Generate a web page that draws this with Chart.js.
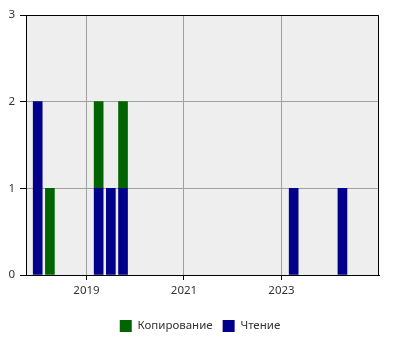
<!DOCTYPE html>
<html>
<head>
<meta charset="utf-8">
<script src="https://cdn.jsdelivr.net/npm/chart.js@4/dist/chart.umd.min.js"></script>
<style>
    body { margin: 0; background: #fff; }
</style>
</head>
<body>
<canvas id="chart" width="400" height="350"></canvas>
<script>
// Quarters (as decimal years) where something happened
const readingDates = [2018.0, 2019.25, 2019.5, 2019.75, 2023.25, 2024.25]
const readingCounts = [2, 1, 1, 1, 1, 1]
const copyDates = [2018.25, 2019.25, 2019.75]
const copyCounts = [1, 1, 1]
const yearTicks = [2019, 2021, 2023]
const seriesNames = ["Чтение", "Копирование"]

function toPoints(dates, counts) {
    let points = []
    for (let i = 0; i < dates.length; i++) {
        points.push({ x: dates[i], y: counts[i] })
    }
    return points
}

// Grey plot background and the closed frame round it
const plotFrame = {
    id: "plotFrame",
    beforeDraw(chart) {
        const { ctx, chartArea } = chart
        ctx.save()
        ctx.fillStyle = "#eeeeee"
        ctx.fillRect(chartArea.left, chartArea.top, chartArea.right - chartArea.left, chartArea.bottom - chartArea.top)
        ctx.restore()
    },
    afterDraw(chart) {
        const { ctx, chartArea } = chart
        ctx.save()
        ctx.strokeStyle = "#000"
        ctx.lineWidth = 1
        ctx.beginPath()
        ctx.moveTo(Math.round(chartArea.left) + 0.5, Math.round(chartArea.top) + 0.5)
        ctx.lineTo(Math.round(chartArea.right) - 0.5, Math.round(chartArea.top) + 0.5)
        ctx.lineTo(Math.round(chartArea.right) - 0.5, Math.round(chartArea.bottom))
        ctx.stroke()
        ctx.restore()
    }
}

Chart.defaults.font.family = "'Noto Sans', sans-serif"
Chart.defaults.font.size = 11.5
Chart.defaults.color = "#333"

const config = {
    type: "bar",
    data: {
        datasets: [{
            label: seriesNames[0],
            data: toPoints(readingDates, readingCounts),
            backgroundColor: "#00008b",
            barThickness: 9
        }, {
            label: seriesNames[1],
            data: toPoints(copyDates, copyCounts),
            backgroundColor: "#006400",
            barThickness: 9
        }]
    },
    options: {
        responsive: false,
        animation: false,
        layout: { padding: { top: 15, right: 0, bottom: 8, left: 0 } },
        plugins: {
            tooltip: { enabled: false },
            legend: {
                position: "bottom",
                reverse: true,
                labels: { boxWidth: 12, boxHeight: 12, padding: 10, color: "#333" }
            }
        },
        scales: {
            x: {
                type: "linear",
                stacked: true,
                offset: false,
                min: 2017.76,
                max: 2025,
                afterBuildTicks: (axis) => {
                    axis.ticks = yearTicks.map(v => ({ value: v }))
                },
                afterFit: (axis) => { axis.height = 35 },
                ticks: { callback: (v) => String(v), padding: 4, maxRotation: 0 },
                grid: { offset: false, color: "#a0a0a0", tickColor: "#000", tickLength: 5 },
                border: { color: "#000", width: 1 }
            },
            y: {
                stacked: true,
                min: 0,
                max: 3,
                afterFit: (axis) => { axis.width = 26 },
                ticks: { stepSize: 1, padding: 5 },
                grid: { color: "#a0a0a0", tickColor: "#000", tickLength: 6 },
                border: { color: "#000", width: 1 }
            },
            // empty axis that only keeps the white margin on the right
            spacer: {
                position: "right",
                display: true,
                afterFit: (axis) => { axis.width = 21 },
                ticks: { display: false },
                grid: { display: false },
                border: { display: false }
            }
        }
    },
    plugins: [plotFrame]
}

new Chart(document.getElementById("chart"), config)
</script>
</body>
</html>
